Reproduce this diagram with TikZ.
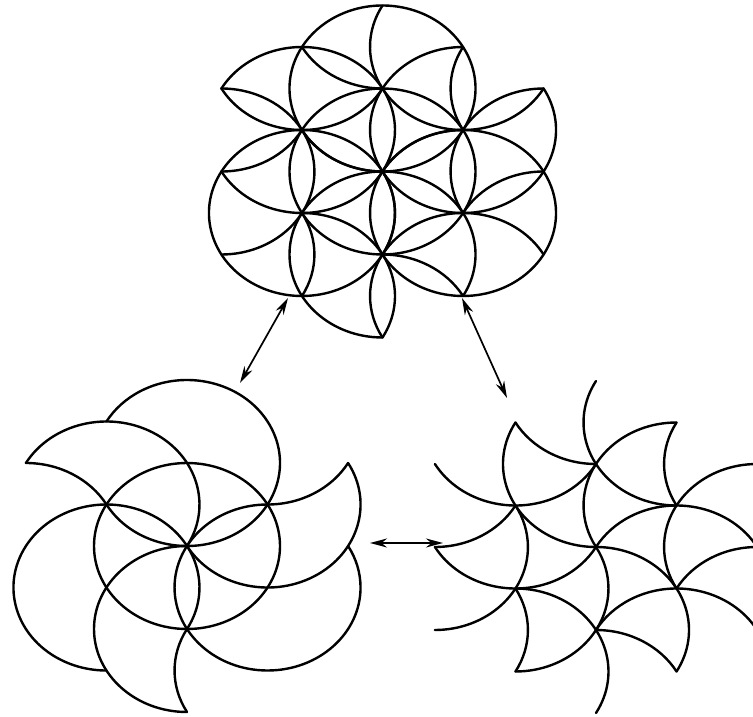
\documentclass[tikz,border=0pt]{standalone}
\usetikzlibrary{arrows.meta}
\begin{document}
\begin{tikzpicture}[
  x=93pt, y=83pt,
  curve/.style={line width=2.4pt, line cap=round, line join=round},
  link/.style={{Stealth[length=17pt,width=9pt]}-{Stealth[length=17pt,width=9pt]}, line width=1.7pt}
]
  \useasboundingbox (0pt,0pt) rectangle (753pt,-717pt);
  \clip (0pt,0pt) rectangle (753pt,-717pt);
  % centres of the three patterns
  \coordinate (flower) at (382.5pt,-171.5pt);
  \coordinate (spiral) at (187pt,-546pt);
  \coordinate (triangles) at (596pt,-547pt);
  % whirl: central circle, semicircles and crescents (threefold)
  \foreach \c in {flower,spiral} {
    \draw[curve] (\c) circle[radius=1];
    \foreach \r in {0,120,240}
      \foreach \p/\d/\s/\e in {210/1/-30/270,150/1/-30/150,180/1.732/30/90}
        \draw[curve] (\c) ++(\p+\r:\d) ++(\s+\r:1) arc[start angle=\s+\r, end angle=\e+\r, radius=1];
  }
  % curved triangles (sixfold)
  \foreach \c in {flower,triangles}
    \foreach \r in {0,60,...,300}
      \foreach \p/\d/\s/\e in {90/1/150/270,120/1.732/210/330,90/2/210/270}
        \draw[curve] (\c) ++(\p+\r:\d) ++(\s+\r:1) arc[start angle=\s+\r, end angle=\e+\r, radius=1];
  % arrows between the patterns
  \coordinate (flowerSW) at (288pt,-298pt);
  \coordinate (spiralNE) at (240pt,-383pt);
  \coordinate (flowerSE) at (462pt,-298pt);
  \coordinate (trianglesNW) at (507pt,-398pt);
  \coordinate (spiralE) at (370pt,-543pt);
  \coordinate (trianglesW) at (443pt,-543pt);
  \draw[link] (flowerSW) -- (spiralNE);
  \draw[link] (flowerSE) -- (trianglesNW);
  \draw[link] (spiralE) -- (trianglesW);
\end{tikzpicture}
\end{document}
